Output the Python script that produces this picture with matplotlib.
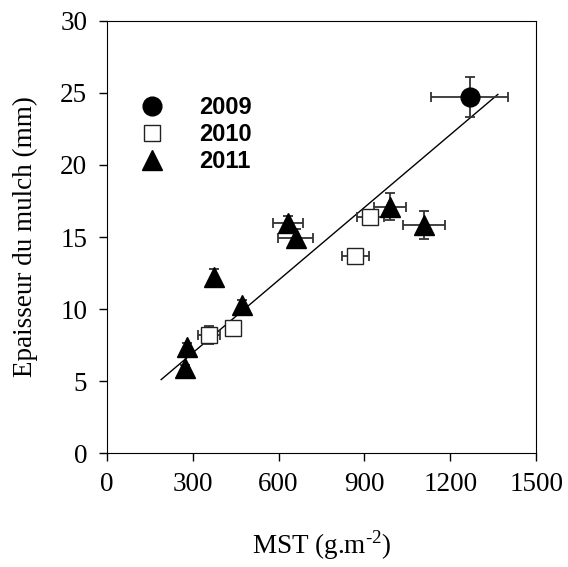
import matplotlib
matplotlib.use('Agg')
import matplotlib.pyplot as plt

plt.rcParams['mathtext.fontset'] = 'custom'
plt.rcParams['mathtext.rm'] = 'Liberation Serif'

# 2009
x_2009 = [1268]
y_2009 = [24.7]
xerr_2009 = [135]
yerr_2009 = [1.4]

# 2010
x_2010 = [920, 868, 358, 442]
y_2010 = [16.4, 13.7, 8.2, 8.7]
xerr_2010 = [47, 48, 38, 0]
yerr_2010 = [0.4, 0.0, 0.65, 0.0]

# 2011
x_2011 = [273, 280, 376, 474, 634, 660, 990, 1108]
y_2011 = [5.9, 7.35, 12.2, 10.3, 15.95, 14.95, 17.1, 15.85]
xerr_2011 = [0, 0, 0, 0, 52, 62, 55, 74]
yerr_2011 = [0.2, 0.3, 0.6, 0.35, 0.5, 0.6, 0.95, 0.98]

# regression line end points
line_x = [190, 1366]
line_y = [5.1, 24.9]

xticks = [0, 300, 600, 900, 1200, 1500]
yticks = [0, 5, 10, 15, 20, 25, 30]

serif = 'Liberation Serif'
sans = 'Liberation Sans'

fig = plt.figure(figsize=(5.68, 5.67), dpi=100)
ax = fig.add_axes([0.188, 0.201, 0.756, 0.762])

ax.plot(line_x, line_y, color='black', lw=1, zorder=2)

err_kw = dict(fmt='none', ecolor='#333333', elinewidth=1.3, capsize=3.8,
              capthick=1.3, zorder=3)
ax.errorbar(x_2009, y_2009, xerr=xerr_2009, yerr=yerr_2009, **err_kw)
ax.errorbar(x_2010, y_2010, xerr=xerr_2010, yerr=yerr_2010, **err_kw)
ax.errorbar(x_2011, y_2011, xerr=xerr_2011, yerr=yerr_2011, **err_kw)

ax.plot(x_2009, y_2009, 'o', ms=13.5, mfc='black', mec='black',
        ls='none', zorder=4, label='2009')
ax.plot(x_2010, y_2010, 's', ms=12, mfc='white', mec='#222222', mew=1,
        ls='none', zorder=4, label='2010')
ax.plot(x_2011, y_2011, '^', ms=14, mfc='black', mec='black',
        ls='none', zorder=4, label='2011')

ax.set_xlim(0, 1500)
ax.set_ylim(0, 30)
ax.set_xticks(xticks)
ax.set_yticks(yticks)
ax.tick_params(direction='out', length=6, width=1, top=False, right=False,
               labelsize=19.5, pad=8)
for lab in ax.get_xticklabels() + ax.get_yticklabels():
    lab.set_fontfamily(serif)

ax.set_xlabel(r'MST (g.m$^{\text{-2}}$)', fontsize=19.5, family=serif,
              labelpad=22)
ax.set_ylabel('Epaisseur du mulch (mm)', fontsize=19.5, family=serif,
              labelpad=16)

leg = ax.legend(loc='upper left', bbox_to_anchor=(0.0, 0.875), frameon=False,
                prop={'family': sans, 'weight': 'bold', 'size': 17},
                handletextpad=1.0, labelspacing=0.17, borderaxespad=0.5)

fig.savefig('out.png', dpi=100)
